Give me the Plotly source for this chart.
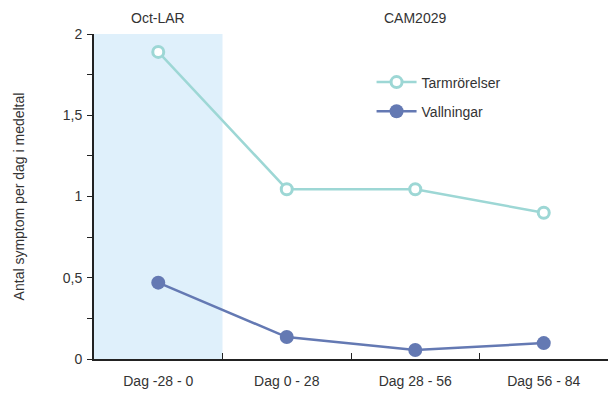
import plotly.graph_objects as go

periods = ["Dag -28 - 0", "Dag 0 - 28", "Dag 28 - 56", "Dag 56 - 84"]
tarm = [1.89, 1.045, 1.045, 0.90]
vall = [0.47, 0.135, 0.055, 0.098]

TEAL = "#9dd7d5"
BLUE = "#6479b3"

fig = go.Figure()
fig.add_trace(go.Scatter(
    x=periods, y=tarm, name="Tarmrörelser", mode="lines+markers",
    line=dict(color=TEAL, width=2.5), legendgroup="a",
    marker=dict(size=11, color="white", line=dict(color=TEAL, width=3)),
))
fig.add_trace(go.Scatter(
    x=periods, y=vall, name="Vallningar", mode="lines+markers",
    line=dict(color=BLUE, width=2.5), legendgroup="b",
    marker=dict(size=14, color=BLUE),
))

fig.add_shape(type="rect", xref="x", yref="paper", x0=-0.5, x1=0.5, y0=0, y1=1,
              fillcolor="#dff0fb", line_width=0, layer="below")

for txt, pos in [("Oct-LAR", 0), ("CAM2029", 2)]:
    fig.add_annotation(text=txt, x=pos, y=1.0, xref="x", yref="paper", yanchor="middle",
                       yshift=16, showarrow=False, font=dict(size=14, color="#333"))

fig.update_layout(
    width=608, height=394,
    margin=dict(l=94, r=0, t=34, b=35),
    paper_bgcolor="white", plot_bgcolor="white",
    font=dict(family="Liberation Sans, Arial, sans-serif", size=14, color="#333"),
    separators=", ",
    showlegend=True,
    legend=dict(x=0.54, y=0.9, xanchor="left", yanchor="top", tracegroupgap=8,
                font=dict(size=14), bgcolor="rgba(0,0,0,0)", itemwidth=40),
)
fig.update_xaxes(
    range=[-0.5, 3.5], showline=True, linecolor="#222", linewidth=2,
    ticks="inside", tickson="boundaries", ticklen=6, tickcolor="#222",
    showgrid=False, ticklabelstandoff=8, automargin=False,
)
fig.update_yaxes(
    range=[0, 2], tickvals=[0, 0.5, 1, 1.5, 2], showline=True, linecolor="#222",
    linewidth=2, ticks="outside", ticklen=5, tickcolor="#222", showgrid=False,
    zeroline=False, automargin=False, ticklabelstandoff=2,
    minor=dict(tickvals=[0.25, 0.75, 1.25, 1.75], ticks="outside",
               ticklen=5, tickcolor="#222"),
    title=dict(text="Antal symptom per dag i medeltal", font=dict(size=14), standoff=35),
)

fig.write_html("out.html", config={"displayModeBar": False},
               post_script="document.body.style.margin='0';")
